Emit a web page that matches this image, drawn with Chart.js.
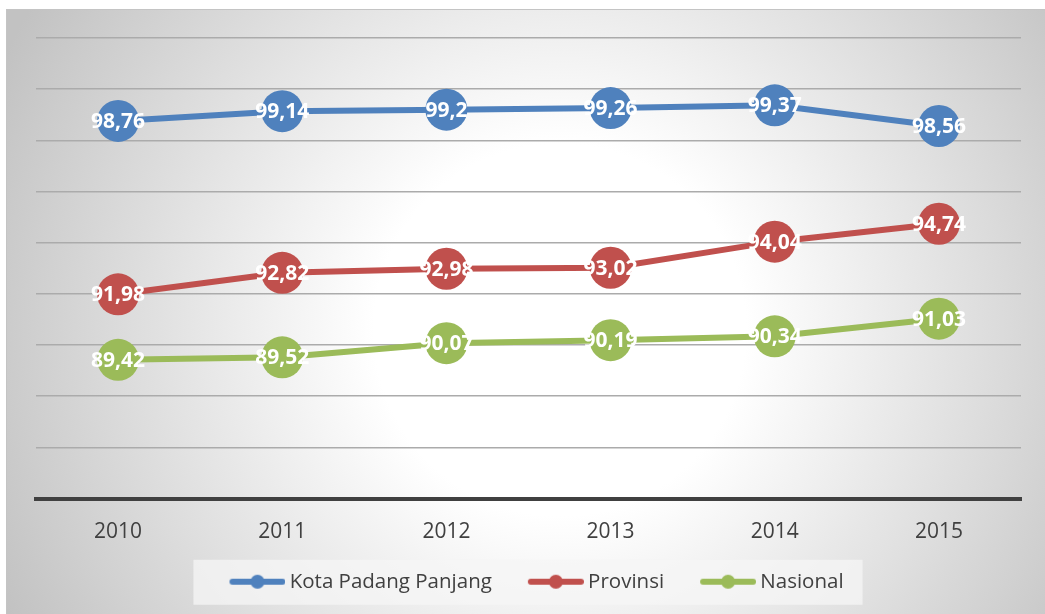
<!DOCTYPE html>
<html>
<head>
<meta charset="utf-8">
<script src="https://cdn.jsdelivr.net/npm/chart.js@4.4.1/dist/chart.umd.min.js"></script>
<style>
  html, body { margin: 0; padding: 0; background: #fff; }
</style>
</head>
<body>
<canvas id="rlsChart" width="1045" height="614"></canvas>
<script>
// data
const years = ["2010", "2011", "2012", "2013", "2014", "2015"];
const kotaPadangPanjang = [98.76, 99.14, 99.2, 99.26, 99.37, 98.56];
const provinsi = [91.98, 92.82, 92.98, 93.02, 94.04, 94.74];
const nasional = [89.42, 89.52, 90.07, 90.19, 90.34, 91.03];
const seriesNames = ["Kota Padang Panjang", "Provinsi", "Nasional"];
const yMin = 84;
const yMax = 102;
const yStep = 2;

const BLUE = "#4f81bd";
const RED = "#c0504d";
const GREEN = "#9bbb59";

Chart.defaults.font.family = "'Open Sans', sans-serif";

// line + dot symbol for the legend; left part of the canvas is blank
// so it works as extra space between legend entries
function legendIcon(color) {
  const c = document.createElement("canvas");
  c.width = 78;
  c.height = 16;
  const g = c.getContext("2d");
  g.strokeStyle = color;
  g.lineWidth = 6;
  g.lineCap = "round";
  g.beginPath();
  g.moveTo(25, 8);
  g.lineTo(75, 8);
  g.stroke();
  g.fillStyle = color;
  g.beginPath();
  g.arc(50, 8, 7, 0, Math.PI * 2);
  g.fill();
  return c;
}
const icons = [legendIcon(BLUE), legendIcon(RED), legendIcon(GREEN)];

// grey radial panel + legend box
const panelBg = {
  id: "panelBg",
  beforeDraw(chart) {
    const ctx = chart.ctx;
    ctx.save();
    ctx.fillStyle = "#fff";
    ctx.fillRect(0, 0, chart.width, chart.height);
    const grad = ctx.createRadialGradient(560, 330, 0, 560, 330, 620);
    grad.addColorStop(0, "#ffffff");
    grad.addColorStop(0.3, "#ffffff");
    grad.addColorStop(1, "#c2c2c2");
    ctx.fillStyle = grad;
    ctx.fillRect(6, 9, chart.width - 6, chart.height - 9);
    ctx.strokeStyle = "#c4c4c4";
    ctx.lineWidth = 1;
    ctx.strokeRect(6.5, 9.5, chart.width, chart.height);

    const boxes = chart.legend.legendHitBoxes;
    if (boxes && boxes.length) {
      const first = boxes[0];
      const last = boxes[boxes.length - 1];
      const cy = first.top + first.height / 2;
      const x0 = first.left - 20;
      const x1 = last.left + last.width + 19;
      ctx.fillStyle = "rgba(245,245,245,0.75)";
      ctx.fillRect(x0, cy - 22, x1 - x0, 45);
    }
    ctx.restore();
  }
};

// white values on top of the dots
const valueLabels = {
  id: "valueLabels",
  afterDatasetsDraw(chart) {
    const ctx = chart.ctx;
    ctx.save();
    ctx.font = "bold 21px 'Open Sans'";
    ctx.fillStyle = "#fff";
    ctx.textAlign = "center";
    ctx.textBaseline = "middle";
    chart.data.datasets.forEach((ds, i) => {
      chart.getDatasetMeta(i).data.forEach((pt, j) => {
        ctx.fillText(String(ds.data[j]).replace(".", ","), pt.x, pt.y + 1);
      });
    });
    ctx.restore();
  }
};

function lineSet(label, data, color) {
  return {
    label: label,
    data: data,
    borderColor: color,
    backgroundColor: color,
    pointBackgroundColor: color,
    pointBorderColor: color,
    borderWidth: 6,
    pointRadius: 21,
    pointBorderWidth: 0,
    pointHoverRadius: 21,
    tension: 0
  };
}

const config = {
  type: "line",
  data: {
    labels: years,
    datasets: [
      lineSet(seriesNames[0], kotaPadangPanjang, BLUE),
      lineSet(seriesNames[1], provinsi, RED),
      lineSet(seriesNames[2], nasional, GREEN)
    ]
  },
  options: {
    responsive: false,
    animation: false,
    layout: {
      padding: { left: 36, right: 24, top: 38, bottom: 12 }
    },
    plugins: {
      title: { display: false },
      tooltip: { enabled: false },
      legend: {
        position: "bottom",
        labels: {
          usePointStyle: true,
          pointStyleWidth: 66,
          color: "#404040",
          padding: 20,
          font: { size: 20.5 },
          generateLabels(chart) {
            const items = Chart.defaults.plugins.legend.labels.generateLabels(chart);
            items.forEach((it, i) => { it.pointStyle = icons[i]; });
            return items;
          }
        }
      }
    },
    scales: {
      x: {
        offset: true,
        grid: { display: true, color: "rgba(0,0,0,0)", drawTicks: false },
        border: { display: true, color: "#404040", width: 4 },
        ticks: {
          color: "#404040",
          padding: 21,
          font: { size: 21 }
        },
        afterFit(scale) {
          scale.height = 53;
        }
      },
      y: {
        min: yMin,
        max: yMax,
        ticks: { display: false, stepSize: yStep },
        grid: { color: "#ababab", lineWidth: 1.5, drawTicks: false },
        border: { display: false }
      }
    }
  },
  plugins: [panelBg, valueLabels]
};

const rlsChart = new Chart(document.getElementById("rlsChart"), config);

// redraw once the fonts are surely there
Promise.all([
  document.fonts.load("bold 21px 'Open Sans'"),
  document.fonts.load("21px 'Open Sans'")
]).then(() => rlsChart.update());
</script>
</body>
</html>
